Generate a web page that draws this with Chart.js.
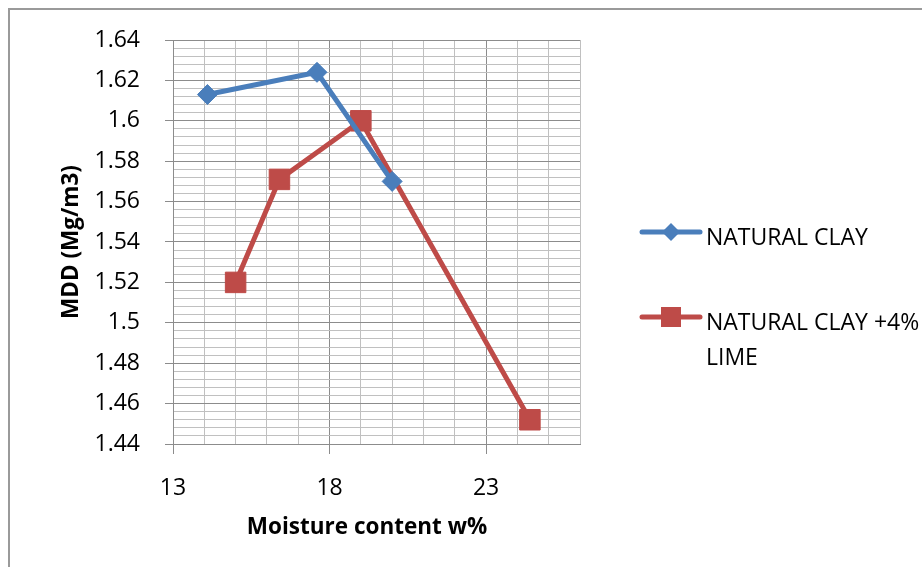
<!DOCTYPE html>
<html>
<head>
<meta charset="utf-8">
<script src="https://cdn.jsdelivr.net/npm/chart.js@4"></script>
<style>
  html, body { margin: 0; padding: 0; background: #fff; overflow: hidden; }
  #wrap { position: relative; width: 922px; height: 567px; }
  #frame { position: absolute; left: 8px; top: 8px; width: 1000px; height: 1000px; border: 2px solid #9a9a9a; box-sizing: border-box; }
  canvas { position: absolute; left: 0; top: 0; }
</style>
</head>
<body>
<div id="wrap">
  <div id="frame"></div>
  <canvas id="chart" width="922" height="567"></canvas>
</div>
<script>
// ---- Data ----
const clayX = [14.1, 17.6, 20];
const clayY = [1.613, 1.624, 1.57];
const limeX = [15, 16.4, 19, 24.4];
const limeY = [1.52, 1.571, 1.6, 1.452];
const seriesNames = ['NATURAL CLAY', 'NATURAL CLAY +4%', 'LIME'];
const xTitle = 'Moisture content w%';
const yTitle = 'MDD (Mg/m3)';

const BLUE = '#4a7ebb';
const RED = '#be4b48';
const MAJOR = '#8c8c8c';
const MINOR = '#c0c0c0';
const FONT = '"Open Sans", "Liberation Sans", sans-serif';

const toPoints = (xs, ys) => xs.map((x, i) => ({ x, y: ys[i] }));

// axis titles + legend drawn by hand (legend wraps onto two lines)
const extras = {
  id: 'extras',
  afterDraw(chart) {
    const { ctx, chartArea } = chart;
    ctx.save();
    ctx.fillStyle = '#000';
    ctx.font = 'bold 22.5px ' + FONT;
    ctx.textAlign = 'center';
    ctx.textBaseline = 'middle';
    ctx.fillText(xTitle, 367, 528);
    ctx.translate(72, (chartArea.top + chartArea.bottom) / 2);
    ctx.rotate(-Math.PI / 2);
    ctx.fillText(yTitle, 0, 0);
    ctx.restore();

    // legend
    ctx.save();
    ctx.lineCap = 'round';
    ctx.lineWidth = 5;
    ctx.strokeStyle = BLUE;
    ctx.beginPath(); ctx.moveTo(642, 232); ctx.lineTo(700, 232); ctx.stroke();
    ctx.fillStyle = BLUE;
    ctx.beginPath();
    ctx.moveTo(671, 223); ctx.lineTo(680, 232); ctx.lineTo(671, 241); ctx.lineTo(662, 232);
    ctx.closePath(); ctx.fill();

    ctx.strokeStyle = RED;
    ctx.beginPath(); ctx.moveTo(642, 317); ctx.lineTo(700, 317); ctx.stroke();
    ctx.fillStyle = RED;
    ctx.fillRect(661, 307, 20, 20);

    ctx.fillStyle = '#000';
    ctx.font = '23px ' + FONT;
    ctx.textAlign = 'left';
    ctx.textBaseline = 'middle';
    ctx.fillText(seriesNames[0], 706, 238);
    ctx.fillText(seriesNames[1], 706, 323);
    ctx.fillText(seriesNames[2], 706, 358);
    ctx.restore();
  }
};

new Chart(document.getElementById('chart'), {
  type: 'line',
  data: {
    datasets: [
      {
        label: seriesNames[0],
        data: toPoints(clayX, clayY),
        borderColor: BLUE,
        backgroundColor: BLUE,
        borderWidth: 5,
        pointStyle: 'rectRot',
        pointRadius: 10,
        pointBorderWidth: 1,
        tension: 0,
        clip: false
      },
      {
        label: seriesNames[1] + ' ' + seriesNames[2],
        data: toPoints(limeX, limeY),
        borderColor: RED,
        backgroundColor: RED,
        borderWidth: 5,
        pointStyle: 'rect',
        pointRadius: 14.5,
        pointBorderWidth: 1,
        tension: 0,
        clip: false
      }
    ]
  },
  options: {
    responsive: false,
    animation: false,
    layout: { padding: { left: 0, top: 40, right: 342, bottom: 0 } },
    plugins: { legend: { display: false }, tooltip: { enabled: false } },
    scales: {
      x: {
        type: 'linear',
        min: 13,
        max: 26,
        afterFit: (s) => { s.height = 123; },
        ticks: {
          stepSize: 1,
          autoSkip: false,
          maxRotation: 0,
          padding: 21,
          color: '#000',
          font: { family: FONT, size: 23 },
          callback: (v, i) => (i % 5 === 0 ? String(v) : '')
        },
        grid: {
          color: (c) => (c.index % 5 === 0 ? MAJOR : MINOR),
          tickColor: (c) => (c.index % 5 === 0 ? MAJOR : 'transparent'),
          tickLength: 10,
          lineWidth: 1
        },
        border: { color: MAJOR, width: 1 }
      },
      y: {
        min: 1.44,
        max: 1.64,
        afterFit: (s) => { s.width = 173; },
        ticks: {
          stepSize: 0.004,
          autoSkip: false,
          padding: 25,
          color: '#000',
          font: { family: FONT, size: 23 },
          callback: (v, i) => (i % 5 === 0 ? String(Math.round(v * 100) / 100) : '')
        },
        grid: {
          color: (c) => (c.index % 5 === 0 ? MAJOR : MINOR),
          tickColor: (c) => (c.index % 5 === 0 ? MAJOR : 'transparent'),
          tickLength: 8,
          lineWidth: 1
        },
        border: { color: MAJOR, width: 1 }
      }
    }
  },
  plugins: [extras]
});
</script>
</body>
</html>
